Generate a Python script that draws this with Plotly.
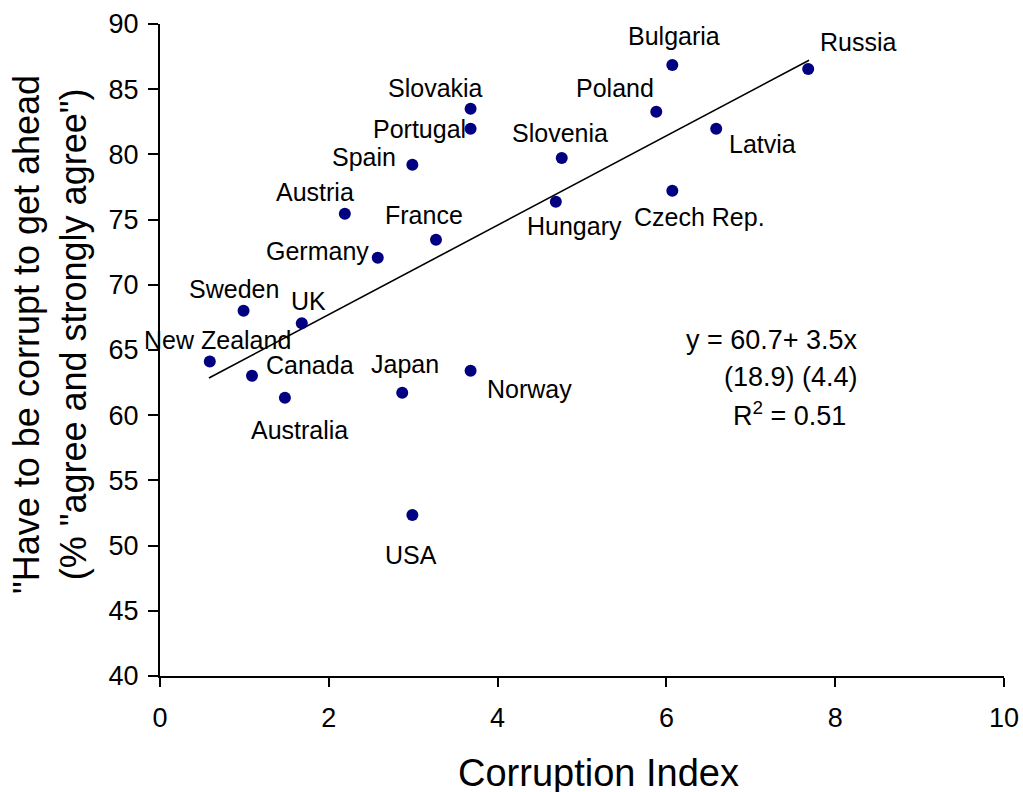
import plotly.graph_objects as go

countries = ["Russia", "Bulgaria", "Poland", "Latvia", "Czech Rep.", "Slovenia", "Hungary",
             "Slovakia", "Portugal", "Spain", "Austria", "France", "Germany", "Sweden", "UK",
             "New Zealand", "Canada", "Australia", "Japan", "Norway", "USA"]
corruption_index = [7.68, 6.07, 5.88, 6.59, 6.07, 4.76, 4.69,
                    3.68, 3.68, 2.99, 2.19, 3.27, 2.58, 0.99, 1.68,
                    0.59, 1.09, 1.48, 2.87, 3.68, 2.99]
pct_agree = [86.55, 86.86, 83.27, 81.97, 77.22, 79.72, 76.37,
             83.50, 81.97, 79.21, 75.45, 73.46, 72.08, 68.01, 67.05,
             64.11, 63.03, 61.34, 61.73, 63.41, 52.35]

trend_x = [0.58, 7.69]
trend_y = [62.85, 87.22]

x_ticks = [0, 2, 4, 6, 8, 10]
y_ticks = [40, 45, 50, 55, 60, 65, 70, 75, 80, 85, 90]

x_title = "Corruption Index"
y_title = '"Have to be corrupt to get ahead<br>(% "agree and strongly agree")'

# label offsets in pixels (dx right, dy up)
label_offsets = {
    "Russia": (50, 27), "Bulgaria": (2, 29), "Poland": (-41, 24), "Latvia": (46, -15),
    "Czech Rep.": (27, -26), "Slovenia": (-2, 25), "Hungary": (19, -24),
    "Slovakia": (-35, 21), "Portugal": (-51, 0), "Spain": (-48, 8), "Austria": (-30, 22),
    "France": (-12, 25), "Germany": (-60, 7), "Sweden": (-10, 22), "UK": (7, 22),
    "New Zealand": (8, 22), "Canada": (58, 11), "Australia": (15, -32), "Japan": (3, 29),
    "Norway": (59, -18), "USA": (-1, -40),
}

FONT = "Liberation Sans, Arial, sans-serif"
FW, FH = 1023, 792

fig = go.Figure()
fig.add_trace(go.Scatter(x=trend_x, y=trend_y, mode="lines",
                         line=dict(color="black", width=1.6), hoverinfo="skip"))
fig.add_trace(go.Scatter(x=corruption_index, y=pct_agree, mode="markers",
                         marker=dict(color="#000080", size=12), text=countries))

for c, xv, yv in zip(countries, corruption_index, pct_agree):
    dx, dy = label_offsets[c]
    fig.add_annotation(x=xv, y=yv, text=c, showarrow=False, xshift=dx, yshift=dy,
                       font=dict(family=FONT, size=25, color="black"))

L, T, W, H = 160, 24, 844, 652


def px2paper(px, py):
    return (px - L) / W, 1 - (py - T) / H


eq_lines = [("y = 60.7+ 3.5x", 772, 340), ("(18.9) (4.4)", 791, 377),
            ("R<sup>2</sup> = 0.51", 789, 414)]
for txt, px, py in eq_lines:
    xp, yp = px2paper(px, py)
    fig.add_annotation(xref="paper", yref="paper", x=xp, y=yp,
                       text=txt, showarrow=False, xanchor="center", yanchor="middle",
                       font=dict(family=FONT, size=27, color="black"))

xp, yp = px2paper(598, 773)
fig.add_annotation(xref="paper", yref="paper", x=xp, y=yp, text=x_title, showarrow=False,
                   xanchor="center", yanchor="middle", borderpad=0,
                   font=dict(family=FONT, size=38, color="black"))
xp, yp = px2paper(50, 335)
fig.add_annotation(xref="paper", yref="paper", x=xp, y=yp, text=y_title, showarrow=False,
                   textangle=-90, xanchor="center", yanchor="middle", borderpad=0,
                   font=dict(family=FONT, size=36, color="black"))

fig.update_layout(
    width=FW, height=FH,
    margin=dict(l=L, r=FW - L - W, t=T, b=FH - T - H),
    paper_bgcolor="white", plot_bgcolor="white",
    showlegend=False,
    font=dict(family=FONT, color="black"),
)
fig.update_xaxes(range=[0, 10], tickvals=x_ticks, showgrid=False, zeroline=False,
                 showline=True, linecolor="black", linewidth=2, ticks="outside",
                 ticklen=9, tickwidth=2, tickcolor="black", automargin=False,
                 ticklabelstandoff=8,
                 tickfont=dict(family=FONT, size=27))
fig.update_yaxes(range=[40, 90], tickvals=y_ticks, showgrid=False, zeroline=False,
                 showline=True, linecolor="black", linewidth=2, ticks="outside",
                 ticklen=10, tickwidth=2, tickcolor="black", automargin=False,
                 ticklabelstandoff=4,
                 tickfont=dict(family=FONT, size=27))

fig.write_html("out.html", config={"displayModeBar": False},
               post_script="document.body.style.margin='0';document.body.style.overflow='hidden';")
